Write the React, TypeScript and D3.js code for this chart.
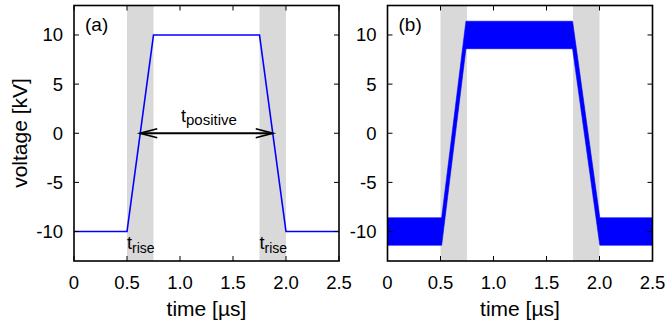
import React from "react";
import * as d3 from "d3";

// Shared axis settings
const xTicks = [0, 0.5, 1.0, 1.5, 2.0, 2.5];
const yTicks = [-10, -5, 0, 5, 10];
const xDomain: [number, number] = [0, 2.5];
const yDomain: [number, number] = [-13, 13];

// Transition windows (shaded), in µs
const riseStart = [0.5, 1.75];
const riseEnd = [0.75, 2.0];

// (a) ideal trapezoidal pulse
const aTime = [0, 0.5, 0.75, 1.75, 2.0, 2.5];
const aVolt = [-10, -10, 10, 10, -10, -10];

// (b) measured pulse: envelope of the fast ripple
const bTime = [0, 0.511, 0.74, 1.746, 2.003, 2.5];
const bUpper = [-8.6, -8.6, 11.4, 11.4, -8.6, -8.6];
const bLower = [-11.4, -11.4, 8.6, 8.6, -11.4, -11.4];

const W = 665;
const H = 325;
const top = 5.5;
const bottom = 261;
const panels = [
  { id: "a", left: 74, right: 339 },
  { id: "b", left: 387.5, right: 652.5 },
];

const FONT = "'Liberation Sans', Arial, Helvetica, sans-serif";
const fmtX = (v: number) => (v === 0 ? "0" : v.toFixed(1));

function Panel({ id, left, right }: { id: string; left: number; right: number }) {
  const x = d3.scaleLinear().domain(xDomain).range([left, right]);
  const y = d3.scaleLinear().domain(yDomain).range([bottom, top]);
  const tick = 5;

  const line = d3
    .line<number>()
    .x((_, i) => x(aTime[i]))
    .y((v) => y(v));
  const area = d3
    .area<number>()
    .x((_, i) => x(bTime[i]))
    .y0((_, i) => y(bLower[i]))
    .y1((v) => y(v));

  const arrowY = y(0);
  const ax0 = x((aTime[1] + aTime[2]) / 2);
  const ax1 = x((aTime[3] + aTime[4]) / 2);
  const hl = 17;
  const hw = 4.5;

  return (
    <g>
      {riseStart.map((s, i) => (
        <rect
          key={i}
          x={x(s)}
          y={top}
          width={x(riseEnd[i]) - x(s)}
          height={bottom - top}
          fill="#d9d9d9"
        />
      ))}

      {id === "a" ? (
        <path d={line(aVolt) || ""} fill="none" stroke="#0000ff" strokeWidth={1.6} />
      ) : (
        <path d={area(bUpper) || ""} fill="#0000ff" stroke="#0000ff" strokeWidth={0.6} />
      )}

      {/* ticks on all four sides */}
      {xTicks.map((t) => (
        <g key={"x" + t} stroke="#000" strokeWidth={1}>
          <line x1={x(t)} x2={x(t)} y1={bottom} y2={bottom - tick} />
          <line x1={x(t)} x2={x(t)} y1={top} y2={top + tick} />
        </g>
      ))}
      {yTicks.map((t) => (
        <g key={"y" + t} stroke="#000" strokeWidth={1}>
          <line x1={left} x2={left + tick} y1={y(t)} y2={y(t)} />
          <line x1={right} x2={right - tick} y1={y(t)} y2={y(t)} />
        </g>
      ))}
      <rect
        x={left}
        y={top}
        width={right - left}
        height={bottom - top}
        fill="none"
        stroke="#000"
        strokeWidth={1.6}
      />

      {xTicks.map((t) => (
        <text
          key={"xl" + t}
          x={x(t)}
          y={289}
          textAnchor="middle"
          fontSize={18.5}
          fontFamily={FONT}
        >
          {fmtX(t)}
        </text>
      ))}
      {yTicks.map((t) => (
        <text
          key={"yl" + t}
          x={left - 11}
          y={y(t) + 6.5}
          textAnchor="end"
          fontSize={18.5}
          fontFamily={FONT}
        >
          {t}
        </text>
      ))}

      <text x={(left + right) / 2} y={316} textAnchor="middle" fontSize={21} fontFamily={FONT}>
        time [µs]
      </text>
      <text x={left + 11} y={30.5} fontSize={19} fontFamily={FONT}>
        ({id})
      </text>

      {id === "a" && (
        <g>
          <line x1={ax0} x2={ax1} y1={arrowY} y2={arrowY} stroke="#000" strokeWidth={1.8} />
          <path
            d={`M${ax0 + hl},${arrowY - hw}L${ax0},${arrowY}L${ax0 + hl},${arrowY + hw}`}
            fill="none"
            stroke="#000"
            strokeWidth={1.8}
          />
          <path
            d={`M${ax1 - hl},${arrowY - hw}L${ax1},${arrowY}L${ax1 - hl},${arrowY + hw}`}
            fill="none"
            stroke="#000"
            strokeWidth={1.8}
          />
          <text x={181} y={122} fontSize={18} fontFamily={FONT}>
            t<tspan fontSize={15} dy={3}>positive</tspan>
          </text>
          {riseStart.map((s, i) => (
            <text key={"tr" + i} x={x(s)} y={248.5} fontSize={18} fontFamily={FONT}>
              t<tspan fontSize={14} dy={4}>rise</tspan>
            </text>
          ))}
        </g>
      )}
    </g>
  );
}

export default function App() {
  return (
    <svg width={W} height={H} style={{ display: "block", position: "absolute", left: 0, top: 0 }}>
      <rect width={W} height={H} fill="#fff" />
      {panels.map((p) => (
        <Panel key={p.id} {...p} />
      ))}
      <text
        transform={`translate(27,133) rotate(-90)`}
        textAnchor="middle"
        fontSize={21}
        fontFamily={FONT}
      >
        voltage [kV]
      </text>
    </svg>
  );
}
